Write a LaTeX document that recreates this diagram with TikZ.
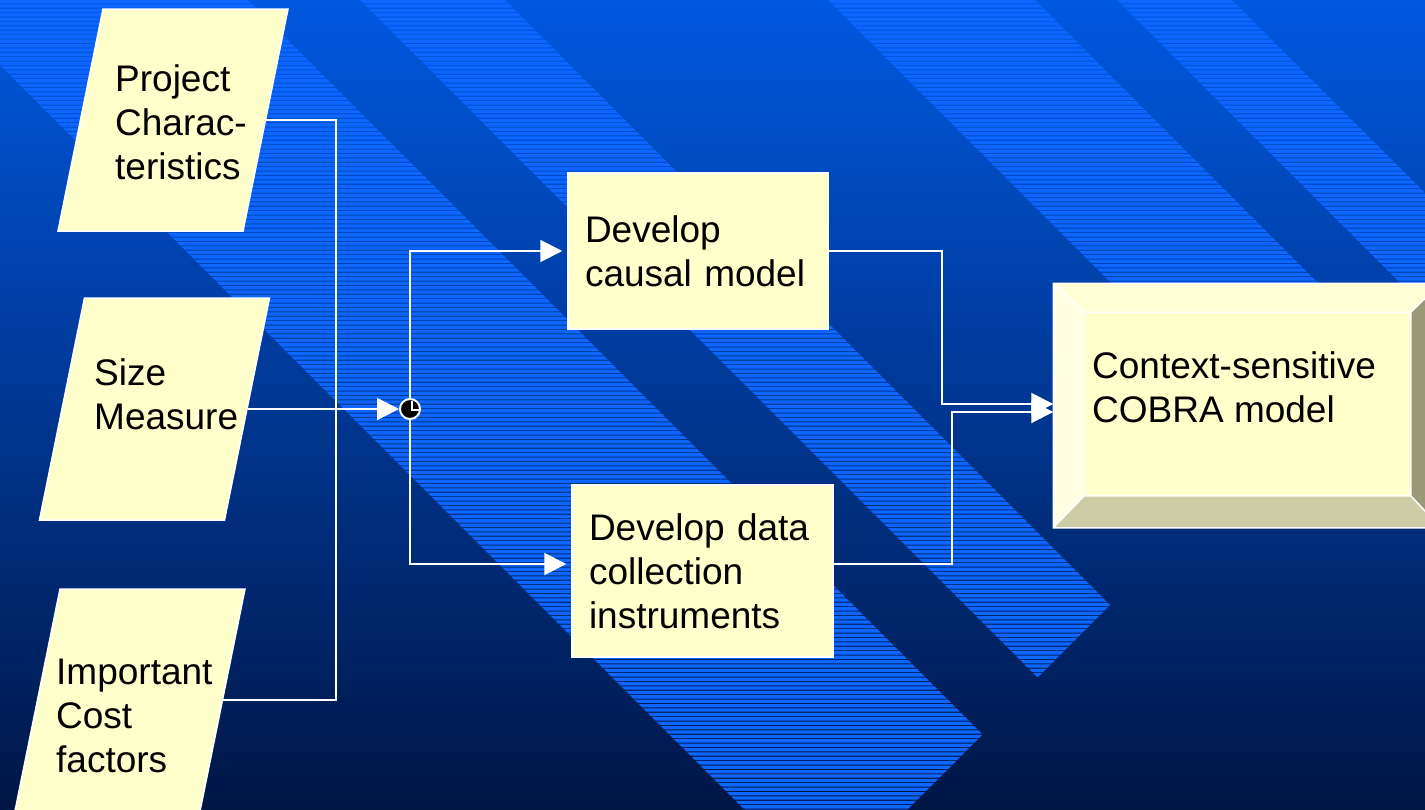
\documentclass[tikz,border=0pt]{standalone}
\usepackage{fontspec}
\setmainfont{Liberation Sans}
\usetikzlibrary{arrows.meta}
\definecolor{bgtop}{HTML}{0058E0}
\definecolor{bgmid}{HTML}{0042AA}
\definecolor{bgbot}{HTML}{001645}
\definecolor{bandblue}{HTML}{0C66FF}
\definecolor{paper}{HTML}{FFFFCC}
\definecolor{bevlight}{HTML}{FFFFE2}
\definecolor{bevtop}{HTML}{FFFFD6}
\definecolor{bevdark}{HTML}{999977}
\definecolor{bevlow}{HTML}{CCCCA5}
\tikzset{
  para/.style={rectangle, xslant=0.2027, transform shape, minimum width=185pt,
    minimum height=222pt, inner sep=0pt, fill=paper, draw=white, line width=1.5pt},
  box/.style={rectangle, fill=paper, draw=white, line width=1.5pt, align=left,
    inner xsep=17pt, inner ysep=0pt},
  txt/.style={align=left, inner sep=0pt, text=black},
  wire/.style={draw=white, line width=2pt},
  junction/.style={circle, fill=black, draw=white, line width=2pt,
    minimum size=20pt, inner sep=0pt}
}
\begin{document}
\begin{tikzpicture}[x=1pt, y=-1pt, >={Triangle[length=22pt,width=22pt]},
  font=\fontsize{37}{44}\selectfont]
\useasboundingbox (0,0) rectangle (1425,809);
\clip (0,0) rectangle (1425,809);
% background and striped bands
\shade[top color=bgtop, middle color=bgmid, bottom color=bgbot] (0,0) rectangle (1425,809);
\begin{scope}
\clip (-75,-10) -- (238,-10) -- (982.5,734.5) -- (826,891) -- cycle
      (350,-10) -- (495,-10) -- (1110,605) -- (1037.5,677.5) -- cycle
      (818,-10) -- (1025,-10) -- (1387.5,352.5) -- (1284,456) -- cycle
      (1107,-10) -- (1222,-10) -- (1486,254) -- (1428.5,311.5) -- cycle;
\fill[bandblue] foreach \k in {0,...,184} {(0,4.4*\k) rectangle (1425,4.4*\k+3.3)};
\end{scope}
% inputs
\node[para] (proj) at (173,120) {};
\node[para] (size) at (154.5,409) {};
\node[para] (cost) at (130,700) {};
\node[txt, anchor=north west] (proj-t) at (115,64.5) {Project\\Charac-\\teristics};
\node[txt, anchor=north west] (size-t) at (94,358) {Size\\Measure};
\node[txt, anchor=north west] (cost-t) at (56,658.5) {Important\\Cost\\factors};
% activities
\node[box, text width=226pt, minimum height=156pt] (causal) at (698,251) {Develop\\causal model};
\node[box, text width=227pt, minimum height=172pt] (data) at (702.5,571) {Develop data\\collection\\instruments};
% result
\node[rectangle, minimum width=386pt, minimum height=243pt, inner sep=0pt,
  fill=bevlight, draw=white, line width=1.5pt] (cobra) at (1247,405.5) {};
\coordinate (cin-nw) at ([shift={(31,29)}]cobra.north west);
\coordinate (cin-ne) at ([shift={(-30,29)}]cobra.north east);
\coordinate (cin-sw) at ([shift={(31,-32)}]cobra.south west);
\coordinate (cin-se) at ([shift={(-30,-32)}]cobra.south east);
\fill[bevtop] (cobra.north west) -- (cobra.north east) -- (cin-ne) -- (cin-nw) -- cycle;
\fill[bevdark] (cobra.north east) -- (cobra.south east) -- (cin-se) -- (cin-ne) -- cycle;
\fill[bevlow] (cobra.south west) -- (cobra.south east) -- (cin-se) -- (cin-sw) -- cycle;
\fill[paper] (cin-nw) rectangle (cin-se);
\draw[white, line width=1.5pt] (cin-nw) rectangle (cin-se)
  (cobra.north west) -- (cin-nw) (cobra.north east) -- (cin-ne)
  (cobra.south west) -- (cin-sw) (cobra.south east) -- (cin-se)
  (cobra.north west) rectangle (cobra.south east);
\node[txt, anchor=north west] (cobra-t) at (1092,351.5) {Context-sensitive\\COBRA model};
% connectors
\node[junction] (jn) at (410,409) {};
\draw[white, line width=1.5pt] ([shift={(2,-8)}]jn.center) -- ([shift={(2,1)}]jn.center) -- ([shift={(9,1)}]jn.center);
\coordinate (bus) at (336,409);
\coordinate (bendA) at (942,404);
\coordinate (bendB) at (952,412);
\draw[wire] (proj.east) -| (bus) |- (cost.east);
\draw[wire,->] (size.east) -- (jn.west);
\draw[wire,->,shorten >=5pt] (jn.north) |- (causal.west);
\draw[wire,->,shorten >=5pt] (jn.south) |- ([yshift=7pt]data.west);
\draw[wire,->] (causal.east) -| (bendA) -- (bendA -| cobra.west);
\draw[wire,->] ([yshift=7pt]data.east) -| (bendB) -- (bendB -| cobra.west);
\end{tikzpicture}
\end{document}
